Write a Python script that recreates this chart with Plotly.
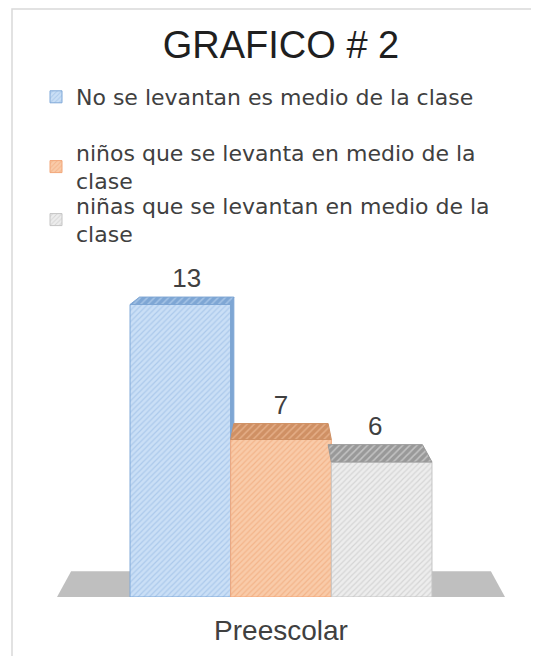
import plotly.graph_objects as go

# data
categories = ["Preescolar"]
series_names = [
    "No se levantan es medio de la clase",
    "niños que se levanta en medio de la<br>clase",
    "niñas que se levantan en medio de la<br>clase",
]
values = [13, 7, 6]

# styling
face_colors = ["#CADFF6", "#F9CBA9", "#EDEDED"]
hatch_colors = ["#8DB3DF", "#EE9E6C", "#BDBDBD"]
edge_colors = ["#7FA8D8", "#F2A679", "#C4C4C4"]
top_colors = ["#7EA6D4", "#CF9064", "#999999"]
TEXT = "#404040"
FONT = "Liberation Sans, Arial, sans-serif"
LEGEND_FONT = "DejaVu Sans, sans-serif"

W, H = 539, 656
OFF = 8  # the page body adds an 8px margin round the figure
# plot area wanted on the page: x 57..505, y 282..597
ML, MT = 57 - OFF, 282 - OFF
PW, PH = 448, 315
MR = W - ML - PW
MB = H - MT - PH
BARGAP = 0.326
Y_MAX = 14
VANISH_Y = 18.25   # eye level (data units) for the fake perspective
DEPTH = 0.063      # fraction of the way towards the vanishing point
LABEL_PAD = 0.15


def paper_x(p):
    return (p - OFF - ML) / PW


def paper_y(p):
    return (MT + PH - (p - OFF)) / PH


def back(x, y):
    # push a front point back towards the vanishing point at (0, VANISH_Y)
    return x + DEPTH * (0 - x), y + DEPTH * (VANISH_Y - y)


fig = go.Figure()

n = len(values)
bar_w = (1 - BARGAP) / n
for i, (name, v) in enumerate(zip(series_names, values)):
    fig.add_trace(go.Bar(
        x=categories, y=[v], name=name,
        marker=dict(
            color=face_colors[i],
            line=dict(color=edge_colors[i], width=1),
            pattern=dict(shape="/", fgcolor=hatch_colors[i], bgcolor=face_colors[i],
                         size=4, solidity=0.3),
        ),
        legend=["legend", "legend2", "legend3"][i],
        hoverinfo="skip",
    ))

# top faces, visible side faces and data labels, on a numeric overlay axis
for i, v in enumerate(values):
    x0 = -(1 - BARGAP) / 2 + i * bar_w
    x1 = x0 + bar_w
    bx0, by = back(x0, v)
    bx1, _ = back(x1, v)
    fig.add_trace(go.Scatter(
        x=[x0, x1, bx1, bx0, x0], y=[v, v, by, by, v],
        xaxis="x2", mode="lines", fill="toself",
        fillcolor=top_colors[i], line=dict(color=top_colors[i], width=1),
        fillpattern=dict(shape="/", fgcolor=face_colors[i], bgcolor=top_colors[i],
                         size=5, solidity=0.3),
        showlegend=False, hoverinfo="skip",
    ))
    # right side face, when the bar's right edge is left of the vanishing point
    low = values[i + 1] if i + 1 < n else 0
    if x1 < 0 and low < v:
        bxl, byl = back(x1, low)
        fig.add_trace(go.Scatter(
            x=[x1, bx1, bxl, x1, x1], y=[v, by, byl, low, v],
            xaxis="x2", mode="lines", fill="toself",
            fillcolor=top_colors[i], line=dict(color=top_colors[i], width=1),
            showlegend=False, hoverinfo="skip",
        ))
    cx = (x0 + x1) / 2
    fig.add_trace(go.Scatter(
        x=[cx + DEPTH * (0 - cx)], y=[by + LABEL_PAD],
        xaxis="x2", mode="text", text=[str(v)], textposition="top center",
        textfont=dict(family=FONT, size=26, color=TEXT),
        cliponaxis=False, showlegend=False, hoverinfo="skip",
    ))

# floor plane under the bars
fx0, fy = back(-0.5, 0)
fx1, _ = back(0.5, 0)
shapes = [
    dict(type="path", xref="x2", yref="y", layer="below",
         path=f"M -0.5 0 L 0.5 0 L {fx1} {fy} L {fx0} {fy} Z",
         fillcolor="#BFBFBF", line=dict(width=0)),
    dict(type="rect", xref="paper", yref="paper",
         x0=paper_x(12), x1=paper_x(537), y0=paper_y(668), y1=paper_y(9),
         line=dict(color="#D9D9D9", width=1.5)),
]

legend_font = dict(family=LEGEND_FONT, size=22, color=TEXT)
legend_common = dict(xanchor="left", yanchor="middle", font=legend_font,
                     bgcolor="rgba(0,0,0,0)", itemclick=False, itemdoubleclick=False)

fig.update_layout(
    width=W, height=H,
    margin=dict(l=ML, r=MR, t=MT, b=MB, autoexpand=False),
    paper_bgcolor="white", plot_bgcolor="white",
    barmode="group", bargap=BARGAP, bargroupgap=0,
    title=dict(text="GRAFICO # 2", x=0.5, xref="paper", xanchor="center",
               y=1 - 37 / H, yref="container", yanchor="middle",
               font=dict(family=FONT, size=38, color="#1F1F1F")),
    xaxis=dict(range=[-0.5, 0.5], showgrid=False, zeroline=False, showline=False,
               ticks="", ticklabelstandoff=14,
               tickfont=dict(family=FONT, size=28, color=TEXT)),
    xaxis2=dict(range=[-0.5, 0.5], overlaying="x", visible=False),
    yaxis=dict(range=[0, Y_MAX], visible=False),
    legend=dict(x=paper_x(36), y=paper_y(97), **legend_common),
    legend2=dict(x=paper_x(36), y=paper_y(167), **legend_common),
    legend3=dict(x=paper_x(36), y=paper_y(220), **legend_common),
    shapes=shapes,
    showlegend=True,
)

fig.write_html("out.html")
